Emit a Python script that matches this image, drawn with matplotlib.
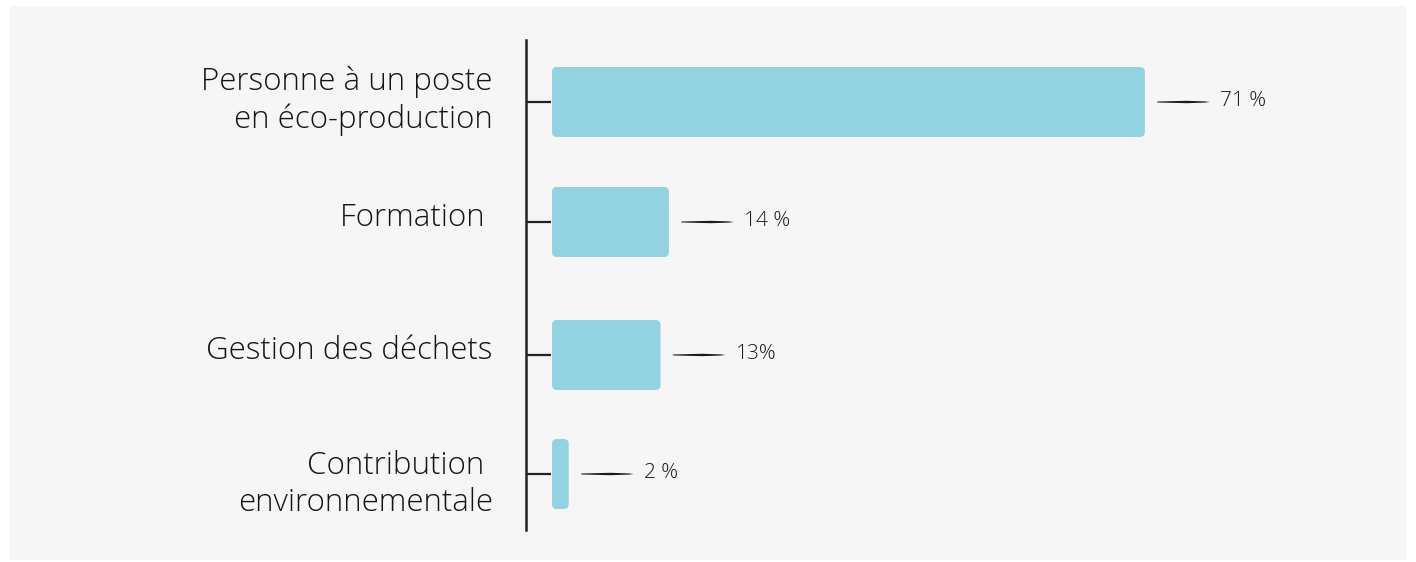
import matplotlib
matplotlib.use("Agg")
import matplotlib.pyplot as plt
import matplotlib.transforms as mtransforms
from matplotlib.patches import FancyBboxPatch, Polygon, Rectangle

categories = ["Personne à un poste\nen éco-production", "Formation ", "Gestion des déchets", "Contribution \nenvironnementale"]
values = [71, 14, 13, 2]
value_labels = ["71 %", "14 %", "13%", "2 %"]

# layout (row positions, in row units) and label vertical nudges (inches)
positions = [0, 1, 2.108, 3.1]
label_nudges = [0.08, 0.08, 0.08, -0.04]

plt.rcParams['font.family'] = ['Open Sans', 'DejaVu Sans']

W, H = 1416, 562
fig = plt.figure(figsize=(W / 100, H / 100), dpi=100)
fig.patch.set_facecolor("white")
fig.patches.append(Rectangle((10 / W, 2 / H), 1396 / W, 554 / H, transform=fig.transFigure,
                             facecolor="#f6f6f6", edgecolor="none", zorder=-10))

ax_left, ax_right, ax_top, ax_bot = 526, 1406, 40, 530
ax = fig.add_axes([ax_left / W, 1 - ax_bot / H, (ax_right - ax_left) / W, (ax_bot - ax_top) / H])
ax.set_facecolor("none")

px_per_unit_x = 8.35
px_per_unit_y = 120.0
x0_px = 552
xmin = -(x0_px - ax_left) / px_per_unit_x
xmax = (ax_right - x0_px) / px_per_unit_x
ax.set_xlim(xmin, xmax)
ymin = -(102 - ax_top) / px_per_unit_y
ymax = ymin + (ax_bot - ax_top) / px_per_unit_y
ax.set_ylim(ymax, ymin)

bar_h = 70 / px_per_unit_y
color = "#93d2e0"
aspect = px_per_unit_x / px_per_unit_y
for v, p, lab in zip(values, positions, value_labels):
    r = min(5.0, v * px_per_unit_x / 2 - 0.5) / px_per_unit_x
    patch = FancyBboxPatch((0, p - bar_h / 2), v, bar_h,
                           boxstyle=f"round,pad=0,rounding_size={r}",
                           mutation_aspect=aspect,
                           facecolor=color, edgecolor="none", zorder=2)
    ax.add_patch(patch)

    trans = fig.dpi_scale_trans + mtransforms.ScaledTranslation(v, p, ax.transData)
    verts = [(0.13, 0.005), (0.42, 0.012), (0.60, 0.006), (0.65, 0.0),
             (0.60, -0.006), (0.42, -0.012), (0.13, -0.005), (0.12, 0.0)]
    ax.add_patch(Polygon(verts, closed=True, transform=trans, facecolor="#1a1a1a",
                         edgecolor="none", clip_on=False, zorder=3))
    ax.text(0.75, 0.01, lab, transform=trans, ha="left", va="center", fontsize=15,
            color="#1a1a1a", fontweight="light")

for s in ["top", "right", "bottom"]:
    ax.spines[s].set_visible(False)
ax.spines["left"].set_linewidth(1.8)
ax.spines["left"].set_color("#222222")
ax.set_xticks([])
ax.set_yticks(positions)
ax.set_yticklabels(categories, fontsize=22.5, color="#151515", fontweight="light",
                   linespacing=1.22, multialignment="right")
ax.tick_params(axis="y", direction="in", length=18, width=1.6, color="#222222", pad=24)
for t, dy in zip(ax.get_yticklabels(), label_nudges):
    t.set_transform(t.get_transform() + mtransforms.ScaledTranslation(0, dy, fig.dpi_scale_trans))

fig.savefig("out.png", dpi=100, facecolor="white")
